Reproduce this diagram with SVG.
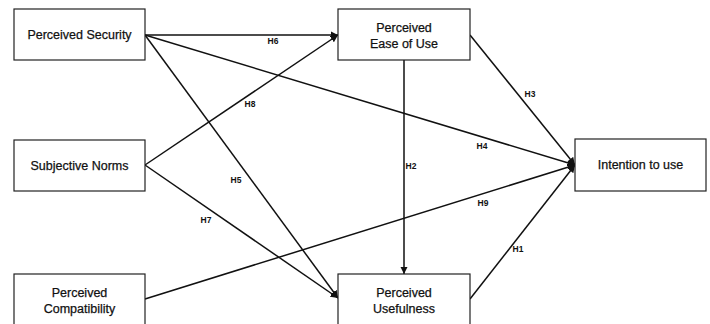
<svg xmlns="http://www.w3.org/2000/svg" width="710" height="324" viewBox="0 0 710 324">
<style>
.box{fill:#fff;stroke:#222;stroke-width:1.2}
.t{font-family:"Liberation Sans",Arial,sans-serif;font-size:12.5px;fill:#111;text-anchor:middle;stroke:#111;stroke-width:0.25}
.lab{font-family:"Liberation Sans",Arial,sans-serif;font-size:8.5px;font-weight:bold;fill:#111;text-anchor:middle}
.c{stroke:#111;stroke-width:1.5;fill:none}
</style>
<defs>
<marker id="ah" viewBox="0 0 10 10" refX="10" refY="5" markerWidth="5" markerHeight="5" orient="auto" markerUnits="strokeWidth">
<path d="M0,0 L10,5 L0,10 z" fill="#111"/>
</marker>
</defs>
<rect width="710" height="324" fill="#fff"/>
<g id="connectors">
<line class="c" x1="145" y1="35" x2="338" y2="35" marker-end="url(#ah)"/>
<line class="c" x1="145" y1="35" x2="575" y2="165" marker-end="url(#ah)"/>
<line class="c" x1="145" y1="35" x2="338" y2="298" marker-end="url(#ah)"/>
<line class="c" x1="145" y1="165" x2="338" y2="35" marker-end="url(#ah)"/>
<line class="c" x1="145" y1="165" x2="338" y2="298" marker-end="url(#ah)"/>
<line class="c" x1="145" y1="299" x2="575" y2="165" marker-end="url(#ah)"/>
<line class="c" x1="404" y1="60" x2="404" y2="274" marker-end="url(#ah)"/>
<line class="c" x1="470" y1="35" x2="575" y2="165" marker-end="url(#ah)"/>
<line class="c" x1="470" y1="299" x2="575" y2="165" marker-end="url(#ah)"/>
<text class="lab" x="273" y="44">H6</text>
<text class="lab" x="250" y="107">H8</text>
<text class="lab" x="236" y="183">H5</text>
<text class="lab" x="206" y="223">H7</text>
<text class="lab" x="411" y="169">H2</text>
<text class="lab" x="530" y="97">H3</text>
<text class="lab" x="482" y="149">H4</text>
<text class="lab" x="483" y="206">H9</text>
<text class="lab" x="518" y="252">H1</text>
</g>
<g id="perceived-security">
<rect class="box" x="14" y="9" width="131" height="51"/>
<text class="t" x="79.5" y="39">Perceived Security</text>
</g>
<g id="subjective-norms">
<rect class="box" x="14" y="140" width="131" height="51"/>
<text class="t" x="79.5" y="170">Subjective Norms</text>
</g>
<g id="perceived-compatibility">
<rect class="box" x="14" y="274" width="131" height="52"/>
<text class="t" x="79.5" y="297">Perceived</text>
<text class="t" x="79.5" y="313">Compatibility</text>
</g>
<g id="perceived-ease-of-use">
<rect class="box" x="338" y="9" width="132" height="51"/>
<text class="t" x="404" y="32">Perceived</text>
<text class="t" x="404" y="48">Ease of Use</text>
</g>
<g id="perceived-usefulness">
<rect class="box" x="338" y="274" width="132" height="52"/>
<text class="t" x="404" y="297">Perceived</text>
<text class="t" x="404" y="313">Usefulness</text>
</g>
<g id="intention-to-use">
<rect class="box" x="575" y="139" width="131" height="52"/>
<text class="t" x="640.5" y="169">Intention to use</text>
</g>
</svg>
